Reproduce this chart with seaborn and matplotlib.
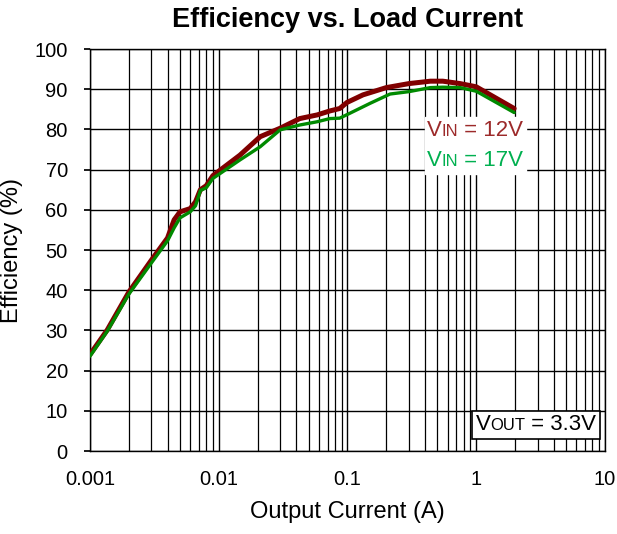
import numpy as np
import pandas as pd
import seaborn as sns
import matplotlib
matplotlib.use("Agg")
import matplotlib.pyplot as plt
from matplotlib.ticker import LogLocator, FuncFormatter, MultipleLocator, NullFormatter
from matplotlib.offsetbox import TextArea, HPacker, VPacker, AnchoredOffsetbox

# Data
current_12v = [0.001, 0.00136, 0.002, 0.003, 0.004, 0.0045, 0.005, 0.006, 0.0066, 0.0072, 0.008, 0.009, 0.0146, 0.021, 0.03, 0.0426, 0.058, 0.073, 0.087, 0.099, 0.132, 0.2, 0.3, 0.44, 0.55, 0.75, 1.0, 1.97]
eff_12v =     [24.0, 30.1,    39.5,  47.5,  53.0,  57.5,   59.5,  60.3,  62.0,   65.0,   66.0,  68.5,  73.6,   78.2,  80.3, 82.7,   83.6,  84.6,  85.2,  86.7,  88.6,  90.4, 91.4, 92.0, 92.0, 91.4, 90.6, 85.2]

current_17v = [0.001, 0.00136, 0.002, 0.003, 0.004, 0.0045, 0.005, 0.006, 0.0066, 0.0072, 0.008, 0.009, 0.0146, 0.021, 0.03, 0.0426, 0.058, 0.073, 0.087, 0.104, 0.15, 0.214, 0.3, 0.44, 0.55, 0.75, 1.0, 1.97]
eff_17v =     [23.6, 29.8,    39.0,  46.8,  52.3,  55.5,   58.0,  59.5,  61.0,   64.8,   65.5,  67.8,  72.4,   75.7,  79.9, 81.1,   81.9,  82.7,  82.8,  84.0,  86.5,  88.8,  89.4, 90.4, 90.5, 90.4, 89.5, 84.2]

series_names = ["VIN = 12V", "VIN = 17V"]

df = pd.concat([
    pd.DataFrame({"current": current_12v, "eff": eff_12v, "series": series_names[0]}),
    pd.DataFrame({"current": current_17v, "eff": eff_17v, "series": series_names[1]}),
])

sns.set_theme(style="white")
plt.rcParams['font.family'] = ['Liberation Sans', 'DejaVu Sans']

fig = plt.figure(figsize=(6.17, 5.34), dpi=100)
ax = fig.add_axes([0.1459, 0.1554, 0.9805 - 0.1459, 0.9082 - 0.1554])

palette = {series_names[0]: "#800000", series_names[1]: "#008a00"}
sns.lineplot(data=df[df.series == series_names[0]], x="current", y="eff", color=palette[series_names[0]],
             lw=3.6, ax=ax, legend=False, zorder=3)
sns.lineplot(data=df[df.series == series_names[1]], x="current", y="eff", color=palette[series_names[1]],
             lw=2.4, ax=ax, legend=False, zorder=4)

ax.set_xscale("log")
ax.set_xlim(0.001, 10)
ax.set_ylim(0, 100)
ax.yaxis.set_major_locator(MultipleLocator(10))
ax.xaxis.set_major_locator(LogLocator(base=10, numticks=10))
ax.xaxis.set_minor_locator(LogLocator(base=10, subs=np.arange(2, 10), numticks=20))
ax.xaxis.set_major_formatter(FuncFormatter(lambda v, p: f"{v:g}"))
ax.xaxis.set_minor_formatter(NullFormatter())

ax.grid(True, which="major", axis="both", color="black", lw=1.0)
ax.grid(True, which="minor", axis="x", color="black", lw=0.9)
ax.set_axisbelow(True)
for s in ax.spines.values():
    s.set_color("black")
    s.set_linewidth(1.0)

ax.tick_params(axis="both", which="major", labelsize=14.5, colors="black", direction="out", left=True, bottom=True)
ax.tick_params(axis="y", which="major", length=4, pad=12)
ax.tick_params(axis="x", which="minor", length=0)
ax.tick_params(axis="x", which="major", length=0, pad=14)

ax.set_xlabel("Output Current (A)", fontsize=17, color="black", labelpad=8)
ax.set_ylabel("Efficiency (%)", fontsize=17, color="black", labelpad=8)
ax.set_title("Efficiency vs. Load Current", fontsize=19.5, fontweight="bold", color="black", pad=16)

def vlabel(sub, rest, color, big=16, small=12):
    return HPacker(children=[TextArea("V", textprops=dict(color=color, fontsize=big)),
                             TextArea(sub, textprops=dict(color=color, fontsize=small)),
                             TextArea(rest, textprops=dict(color=color, fontsize=big))],
                   align="baseline", pad=0, sep=0)

leg = VPacker(children=[vlabel("IN", " = 12V", "#9c2a2a"), vlabel("IN", " = 17V", "#00b050")],
              align="left", pad=0, sep=7)
box1 = AnchoredOffsetbox(loc="center", child=leg, bbox_to_anchor=(0.748, 0.76),
                         bbox_transform=ax.transAxes, frameon=True, pad=0.15, borderpad=0)
box1.patch.set_facecolor("white")
box1.patch.set_edgecolor("white")
box1.zorder = 5
ax.add_artist(box1)

vout = vlabel("OUT", " = 3.3V", "black", big=16, small=12)
box2 = AnchoredOffsetbox(loc="center", child=vout, bbox_to_anchor=(0.866, 0.065),
                         bbox_transform=ax.transAxes, frameon=True, pad=0.25, borderpad=0)
box2.patch.set_facecolor("white")
box2.patch.set_edgecolor("black")
box2.patch.set_linewidth(1.2)
box2.zorder = 5
ax.add_artist(box2)

fig.savefig("out.png", dpi=100)
